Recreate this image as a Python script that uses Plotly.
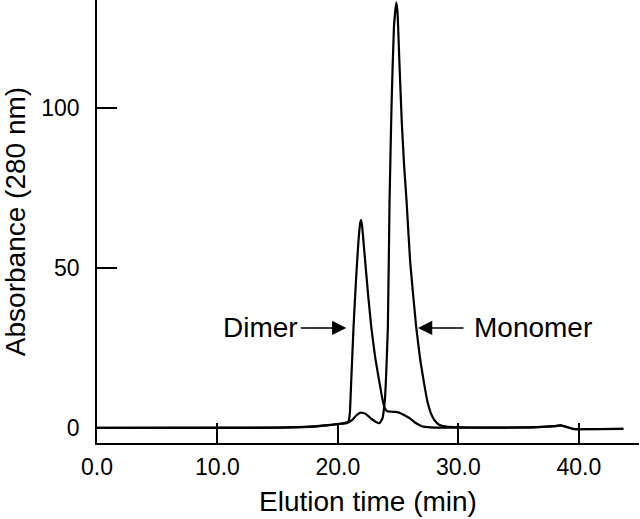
import plotly.graph_objects as go

# elution profiles (time in min, absorbance at 280 nm)
dimer_time = [0, 10, 15, 18, 19, 20, 20.5, 20.8, 20.9, 21.0, 21.1, 21.3, 21.5, 21.7,
              21.85, 21.92, 22.0, 22.2, 22.5, 22.77, 23.1, 23.46, 23.7, 23.9, 24.1,
              24.4, 24.8, 25.2, 25.6, 25.95, 26.4, 27.0, 27.7, 29, 32, 36, 38, 38.5,
              39, 39.5, 40, 43.7]
dimer_abs = [0, 0, 0.1, 0.4, 0.8, 1.2, 1.5, 1.8, 2.2, 5, 14, 31.6, 46, 58,
             64, 65, 63.5, 55, 42, 31.6, 22, 14, 9, 6.2, 5.2,
             5.1, 5.0, 4.6, 3.8, 3.1, 1.7, 0.5, 0.2, 0.1, 0.1, 0.2, 0.6, 0.8,
             0.3, -0.3, -0.4, -0.3]

monomer_time = [0, 15, 18, 19, 20, 20.8, 21.2, 21.5, 21.9, 22.3, 22.8, 23.2, 23.46,
                23.7, 23.9, 24.0, 24.15, 24.29, 24.45, 24.65, 24.85, 24.95, 25.1, 25.3,
                25.5, 25.7, 26.0, 26.5, 26.85, 27.2, 27.45, 27.7, 28.0, 28.4, 29, 30,
                32, 36, 38, 38.5, 39, 39.5, 40, 43.7]
monomer_abs = [0, 0.1, 0.5, 0.8, 1.2, 1.6, 2.5, 3.8, 4.8, 4.4, 2.8, 1.8, 1.5,
               3, 8.75, 16, 31.6, 71, 100, 125, 133, 130, 115, 96,
               82, 71, 52, 31.6, 21, 13, 8, 4.8, 2.5, 1.0, 0.4, 0.2,
               0.1, 0.2, 0.6, 0.8, 0.3, -0.3, -0.4, -0.3]

x_ticks = [0, 10, 20, 30, 40]
x_tick_labels = ["0.0", "10.0", "20.0", "30.0", "40.0"]
y_ticks = [0, 50, 100]

font = "Liberation Sans, Arial, sans-serif"

fig = go.Figure()
for t, a in [(dimer_time, dimer_abs), (monomer_time, monomer_abs)]:
    fig.add_trace(go.Scatter(x=t, y=a, mode="lines",
                             line=dict(color="black", width=2.2, shape="spline", smoothing=0.4),
                             hoverinfo="skip"))

# arrows pointing at the two peaks
fig.add_annotation(x=20.7, y=31.25, ax=-47, ay=0, text="", showarrow=True,
                   arrowhead=2, arrowsize=1.9, arrowwidth=1.5, arrowcolor="black")
fig.add_annotation(x=26.65, y=31.25, ax=47, ay=0, text="", showarrow=True,
                   arrowhead=2, arrowsize=1.9, arrowwidth=1.5, arrowcolor="black")
fig.add_annotation(x=16.85, y=31.25, text="Dimer", showarrow=False, xanchor="right",
                   font=dict(family=font, size=28, color="black"))
fig.add_annotation(x=31.1, y=31.25, text="Monomer", showarrow=False, xanchor="left",
                   font=dict(family=font, size=28, color="black"))

fig.update_layout(
    width=640, height=519,
    margin=dict(l=97, r=1, t=0, b=76),
    paper_bgcolor="white", plot_bgcolor="white",
    showlegend=False,
    font=dict(family=font, color="black"),
    xaxis=dict(range=[0, 45], tickvals=x_ticks, ticktext=x_tick_labels,
               ticks="inside", ticklen=20, tickwidth=1.5, tickcolor="black",
               showline=True, linecolor="black", linewidth=1.5,
               showgrid=False, zeroline=False, automargin=False,
               tickfont=dict(size=23), ticklabelstandoff=3,
               title=dict(text="Elution time (min)", font=dict(size=28), standoff=12)),
    yaxis=dict(range=[-4.7, 133.75], tickvals=y_ticks,
               ticks="inside", ticklen=20, tickwidth=1.5, tickcolor="black",
               showline=True, linecolor="black", linewidth=1.5,
               showgrid=False, zeroline=False, automargin=False,
               ticklabelstandoff=11, tickfont=dict(size=23),
               title=dict(text="Absorbance (280 nm)", font=dict(size=28), standoff=21)),
)

# drop the browser's default body margin so the figure sits at the page corner
fig.write_html("out.html", config={"displayModeBar": False},
               post_script="document.body.style.margin='0';")
